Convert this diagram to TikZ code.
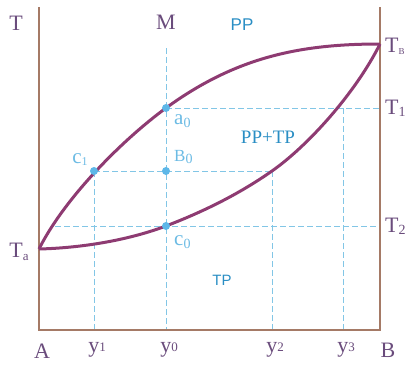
\documentclass[tikz,border=0pt]{standalone}
\usepackage{fontspec}
\setmainfont{Liberation Serif}
\newfontfamily\sansf{Liberation Sans}
\definecolor{axisc}{HTML}{A57A66}
\definecolor{curvec}{HTML}{8E3B72}
\definecolor{dashc}{HTML}{82C6E6}
\definecolor{dotc}{HTML}{5DB7E8}
\definecolor{labc}{HTML}{6A4C7C}
\definecolor{regc}{HTML}{2A8EC4}
\definecolor{ptc}{HTML}{6CBBE4}
\begin{document}
\begin{tikzpicture}[x=1pt,y=-1pt,
  axisline/.style={draw=axisc,line width=1.3pt},
  curveline/.style={draw=curvec,line width=3pt,line join=round},
  dashline/.style={draw=dashc,line width=0.9pt,dash pattern=on 6pt off 3pt},
  lab/.style={text=labc,font=\fontsize{22}{22}\selectfont,inner sep=0pt},
  reg/.style={text=regc,inner sep=0pt},
  ptlab/.style={text=ptc,font=\fontsize{21}{21}\selectfont,inner sep=0pt},
  pdot/.style={circle,fill=dotc,inner sep=0pt,minimum size=8pt}]
\useasboundingbox (0,0) rectangle (413,367);
% frame coordinates
\coordinate (TL) at (39,7);
\coordinate (BL) at (39,330);
\coordinate (BR) at (380,330);
\coordinate (TR) at (380,7);
\coordinate (Ta) at (39,249);
\coordinate (TB) at (380,44);
% key points
\coordinate (a0) at (166,108);
\coordinate (c1) at (94,171);
\coordinate (b0) at (166,171);
\coordinate (c0) at (166,226);
\coordinate (p2) at (272,171);
\coordinate (p3) at (343,108);
\coordinate (Mtop) at (166,48);
\coordinate (T1r) at (380,108);
\coordinate (T2r) at (380,226);
\coordinate (T2l) at (55,226);
\coordinate (y1b) at (94,330);
\coordinate (y0b) at (166,330);
\coordinate (y2b) at (272,330);
\coordinate (y3b) at (343,330);
% dashed lines
\draw[dashline] (Mtop) -- (y0b);
\draw[dashline] (c1) -- (y1b);
\draw[dashline] (p2) -- (y2b);
\draw[dashline] (p3) -- (y3b);
\draw[dashline] (a0) -- (T1r);
\draw[dashline] (c1) -- (p2);
\draw[dashline] (T2l) -- (T2r);
% axes
\draw[axisline] (TL) -- (BL) -- (BR) -- (TR);
% curves
\draw[curveline] (Ta) .. controls (64,199) and (121,141) .. (a0)
  .. controls (236,57) and (300,44) .. (TB);
\draw[curveline] (Ta) .. controls (79,248) and (126,241) .. (c0)
  .. controls (201,212.5) and (237,195.5) .. (p2)
  .. controls (307,146.5) and (355,94) .. (TB);
% dots
\node[pdot] (da0) at (a0) {};
\node[pdot] (dc1) at (c1) {};
\node[pdot] (db0) at (b0) {};
\node[pdot] (dc0) at (c0) {};
% labels
\node[lab] (lT) at (16,23) {T};
\node[lab] (lM) at (166,22) {M};
\node[reg,font=\sansf\fontsize{17}{17}\selectfont] (lPP) at (242,25) {PP};
\node[lab,anchor=west] (lTB) at (385,46) {T\raisebox{-2pt}{\fontsize{9}{9}\selectfont B}};
\node[lab,anchor=west] (lT1) at (385,108) {T\raisebox{-2pt}{\fontsize{14}{14}\selectfont 1}};
\node[reg,font=\fontsize{19}{19}\selectfont] (lPPTP) at (268,137) {PP+TP};
\node[lab,anchor=west] (lT2) at (385,226) {T\raisebox{-2pt}{\fontsize{14}{14}\selectfont 2}};
\node[lab] (lTa) at (19,252) {T\raisebox{-3pt}{\fontsize{13}{13}\selectfont a}};
\node[ptlab,anchor=west] (la0) at (174,121) {a\raisebox{-3pt}{\fontsize{14}{14}\selectfont 0}};
\node[ptlab] (lc1) at (80,160) {c\raisebox{-2pt}{\fontsize{12}{12}\selectfont 1}};
\node[ptlab,anchor=west,font=\fontsize{17}{17}\selectfont] (lB0) at (174,157) {B\raisebox{-2pt}{\fontsize{14}{14}\selectfont 0}};
\node[ptlab,anchor=west] (lc0) at (174,242) {c\raisebox{-3pt}{\fontsize{14}{14}\selectfont 0}};
\node[reg,font=\sansf\fontsize{15}{15}\selectfont] (lTP) at (222,280) {TP};
\node[lab] (lA) at (42,351) {A};
\node[lab] (ly1) at (97,350) {y\raisebox{1pt}{\fontsize{13}{13}\selectfont 1}};
\node[lab] (ly0) at (169,350) {y\raisebox{1pt}{\fontsize{13}{13}\selectfont 0}};
\node[lab] (ly2) at (275,350) {y\raisebox{1pt}{\fontsize{13}{13}\selectfont 2}};
\node[lab] (ly3) at (346,350) {y\raisebox{1pt}{\fontsize{13}{13}\selectfont 3}};
\node[lab] (lB) at (388,350) {B};
\end{tikzpicture}
\end{document}
